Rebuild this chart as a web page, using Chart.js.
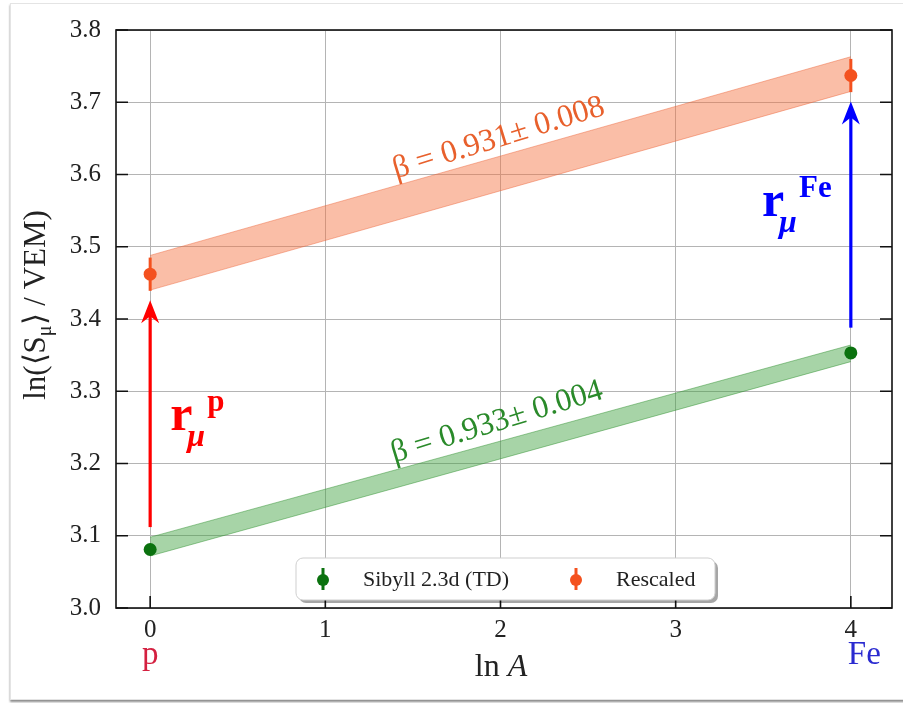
<!DOCTYPE html>
<html>
<head>
<meta charset="utf-8">
<script src="https://cdn.jsdelivr.net/npm/chart.js@4.4.1/dist/chart.umd.min.js"></script>
<style>
  html, body { margin: 0; padding: 0; background: #fff; width: 903px; height: 703px; overflow: hidden; }
  #card { position: absolute; left: 10px; top: 3px; width: 900px; height: 695px; background: #fff;
          border: 1px solid #e4e4e4; box-shadow: 0 2px 2px rgba(0,0,0,0.45); }
  canvas { position: absolute; left: 0; top: 0; }
</style>
</head>
<body>
<div id="card"></div>
<canvas id="c" width="903" height="703"></canvas>
<script>
// ln A of the two primaries (proton, iron)
const lnA = [0, 4];
const xTickValues = [0, 1, 2, 3, 4];
const yTickValues = [3.0, 3.1, 3.2, 3.3, 3.4, 3.5, 3.6, 3.7, 3.8];
const primaryNames = ['p', 'Fe'];

// ln<S_mu> per primary, with errors
const sibyllY = [3.081, 3.353];
const sibyllErr = [0.005, 0.005];
const rescaledY = [3.462, 3.737];
const rescaledErr = [0.023, 0.023];

// linear fit bands (lower / upper edge at lnA = 0 and 4)
const sibyllBandLow = [3.072, 3.341];
const sibyllBandHigh = [3.098, 3.364];
const rescaledBandLow = [3.440, 3.715];
const rescaledBandHigh = [3.488, 3.763];

// fitted slopes
const sibyllBeta = ['0.933', '0.004'];
const rescaledBeta = ['0.931', '0.008'];

// rescaling arrows: [lnA, from, to]
const arrowP = [0, 3.112, 3.426];
const arrowFe = [4, 3.388, 3.701];

const SERIF = "'Liberation Serif', 'Times New Roman', serif";
const GREEN = '#0b720f';
const ORANGE = '#f4511e';
const GREEN_FILL = 'rgba(60,160,60,0.45)';
const GREEN_EDGE = 'rgba(40,140,40,0.45)';
const ORANGE_FILL = 'rgba(244,110,60,0.45)';
const ORANGE_EDGE = 'rgba(235,95,50,0.45)';

const pts = ys => lnA.map((x, i) => ({ x: x, y: ys[i] }));

// error bars under the markers
const errorBars = {
  id: 'errorBars',
  beforeDatasetDraw(chart, args) {
    const ds = chart.data.datasets[args.index];
    if (!ds.err) return;
    const { ctx, scales: { x, y } } = chart;
    ctx.save();
    ctx.strokeStyle = ds.backgroundColor;
    ctx.lineWidth = 3;
    ds.data.forEach((p, i) => {
      const px = x.getPixelForValue(p.x);
      ctx.beginPath();
      ctx.moveTo(px, y.getPixelForValue(p.y - ds.err[i]));
      ctx.lineTo(px, y.getPixelForValue(p.y + ds.err[i]));
      ctx.stroke();
    });
    ctx.restore();
  }
};

function drawArrow(ctx, x, y, a, color) {
  const px = x.getPixelForValue(a[0]);
  const y0 = y.getPixelForValue(a[1]);
  const y1 = y.getPixelForValue(a[2]);
  ctx.save();
  ctx.strokeStyle = color;
  ctx.fillStyle = color;
  ctx.lineWidth = 3.2;
  ctx.beginPath();
  ctx.moveTo(px, y0);
  ctx.lineTo(px, y1 + 14);
  ctx.stroke();
  ctx.beginPath();
  ctx.moveTo(px, y1);
  ctx.lineTo(px - 9, y1 + 23);
  ctx.lineTo(px, y1 + 16);
  ctx.lineTo(px + 9, y1 + 23);
  ctx.closePath();
  ctx.fill();
  ctx.restore();
}

// r_mu^X label, anchored at the baseline-left of "r"
function drawRmu(ctx, px, py, sup, color) {
  ctx.save();
  ctx.fillStyle = color;
  ctx.textAlign = 'left';
  ctx.textBaseline = 'alphabetic';
  ctx.font = 'bold 50px ' + SERIF;
  ctx.fillText('r', px, py);
  ctx.font = 'italic bold 32px ' + SERIF;
  ctx.fillText('\u03bc', px + 17, py + 16);
  ctx.font = 'bold 31px ' + SERIF;
  ctx.fillText(sup, px + 37, py - 19);
  ctx.restore();
}

function drawRotated(ctx, text, px, py, angle, font, color) {
  ctx.save();
  ctx.translate(px, py);
  ctx.rotate(angle);
  ctx.font = font;
  ctx.fillStyle = color;
  ctx.textAlign = 'center';
  ctx.textBaseline = 'middle';
  ctx.fillText(text, 0, 0);
  ctx.restore();
}

const decorations = {
  id: 'decorations',
  afterDraw(chart) {
    const { ctx, chartArea: ca, scales: { x, y } } = chart;

    // frame
    ctx.save();
    ctx.strokeStyle = '#111';
    ctx.lineWidth = 1.6;
    ctx.strokeRect(ca.left, ca.top, ca.right - ca.left, ca.bottom - ca.top);
    // inward ticks
    ctx.beginPath();
    yTickValues.forEach(v => {
      const py = y.getPixelForValue(v);
      ctx.moveTo(ca.left, py); ctx.lineTo(ca.left + 12, py);
      ctx.moveTo(ca.right, py); ctx.lineTo(ca.right - 12, py);
    });
    xTickValues.forEach(v => {
      const px = x.getPixelForValue(v);
      ctx.moveTo(px, ca.bottom); ctx.lineTo(px, ca.bottom - 12);
    });
    ctx.stroke();
    ctx.restore();

    // rescaling arrows and their labels
    drawArrow(ctx, x, y, arrowP, '#ff0000');
    drawArrow(ctx, x, y, arrowFe, '#0000ff');
    drawRmu(ctx, x.getPixelForValue(0.114), y.getPixelForValue(3.246), 'p', '#ff0000');
    drawRmu(ctx, x.getPixelForValue(3.493), y.getPixelForValue(3.543), 'Fe', '#0000ff');

    // slope labels along the bands
    const ang = -17 * Math.PI / 180;
    drawRotated(ctx, '\u03b2 = ' + rescaledBeta[0] + '\u00b1 ' + rescaledBeta[1],
      x.getPixelForValue(1.99), y.getPixelForValue(3.65), ang, '32px ' + SERIF, '#e8602c');
    drawRotated(ctx, '\u03b2 = ' + sibyllBeta[0] + '\u00b1 ' + sibyllBeta[1],
      x.getPixelForValue(1.98), y.getPixelForValue(3.257), ang, '32px ' + SERIF, '#2a8a2a');

    // primary names under the ticks
    ctx.save();
    ctx.textBaseline = 'alphabetic';
    ctx.font = '33px ' + SERIF;
    ctx.fillStyle = '#d42040';
    ctx.textAlign = 'center';
    ctx.fillText(primaryNames[0], x.getPixelForValue(lnA[0]), 664);
    ctx.fillStyle = '#2a2ad0';
    ctx.textAlign = 'left';
    ctx.fillText(primaryNames[1], x.getPixelForValue(lnA[1]) - 3, 664);
    ctx.restore();

    // x title: ln A
    ctx.save();
    ctx.fillStyle = '#222';
    ctx.textBaseline = 'alphabetic';
    ctx.font = '32px ' + SERIF;
    const w1 = ctx.measureText('ln ').width;
    ctx.font = 'italic 32px ' + SERIF;
    const w2 = ctx.measureText('A').width;
    const cx = (ca.left + ca.right) / 2 - 3;
    let sx = cx - (w1 + w2) / 2;
    ctx.font = '32px ' + SERIF;
    ctx.fillText('ln ', sx, 676);
    ctx.font = 'italic 32px ' + SERIF;
    ctx.fillText('A', sx + w1, 676);
    ctx.restore();

    // y title: ln(<S_mu> / VEM)
    ctx.save();
    ctx.translate(45, 305);
    ctx.rotate(-Math.PI / 2);
    ctx.fillStyle = '#222';
    ctx.textBaseline = 'alphabetic';
    const big = '31px ' + SERIF, small = '20px ' + SERIF;
    const parts = [['ln(\u27e8S', big, 0], ['\u03bc', small, 6], ['\u27e9 / VEM)', big, 0]];
    let total = 0;
    parts.forEach(p => { ctx.font = p[1]; total += ctx.measureText(p[0]).width; });
    let tx = -total / 2;
    parts.forEach(p => { ctx.font = p[1]; ctx.fillText(p[0], tx, p[2]); tx += ctx.measureText(p[0]).width; });
    ctx.restore();

    // legend box
    const items = chart.data.datasets.filter(d => d.err);
    const bw = 419, bh = 42;
    const bx = (ca.left + ca.right) / 2 + 1.5 - bw / 2;
    const by = ca.bottom - 8 - bh;
    ctx.save();
    ctx.fillStyle = 'rgba(0,0,0,0.35)';
    ctx.beginPath(); ctx.roundRect(bx + 3, by + 3, bw, bh, 7); ctx.fill();
    ctx.fillStyle = '#fff';
    ctx.strokeStyle = '#cfcfcf';
    ctx.lineWidth = 1;
    ctx.beginPath(); ctx.roundRect(bx, by, bw, bh, 7); ctx.fill(); ctx.stroke();
    const my = by + bh / 2;
    const entryX = [bx + 27, bx + 280];
    items.forEach((d, i) => {
      const mx = entryX[i];
      ctx.strokeStyle = d.backgroundColor;
      ctx.lineWidth = 3;
      ctx.beginPath(); ctx.moveTo(mx, my - 11); ctx.lineTo(mx, my + 11); ctx.stroke();
      ctx.fillStyle = d.backgroundColor;
      ctx.beginPath(); ctx.arc(mx, my + 1, 6, 0, Math.PI * 2); ctx.fill();
      ctx.fillStyle = '#222';
      ctx.font = '22px ' + SERIF;
      ctx.textAlign = 'left';
      ctx.textBaseline = 'middle';
      ctx.fillText(d.label, mx + 40, my + 1);
    });
    ctx.restore();
  }
};

new Chart(document.getElementById('c'), {
  type: 'scatter',
  data: {
    datasets: [
      { label: 'Sibyll 2.3d (TD)', data: pts(sibyllY), err: sibyllErr,
        backgroundColor: GREEN, borderWidth: 0, pointRadius: 6.5 },
      { label: 'Rescaled', data: pts(rescaledY), err: rescaledErr,
        backgroundColor: ORANGE, borderWidth: 0, pointRadius: 6.5 },
      { type: 'line', label: 'sibyll band low', data: pts(sibyllBandLow),
        borderColor: GREEN_EDGE, borderWidth: 1, pointRadius: 0, fill: false },
      { type: 'line', label: 'sibyll band high', data: pts(sibyllBandHigh),
        borderColor: GREEN_EDGE, borderWidth: 1, pointRadius: 0, fill: 2, backgroundColor: GREEN_FILL },
      { type: 'line', label: 'rescaled band low', data: pts(rescaledBandLow),
        borderColor: ORANGE_EDGE, borderWidth: 1, pointRadius: 0, fill: false },
      { type: 'line', label: 'rescaled band high', data: pts(rescaledBandHigh),
        borderColor: ORANGE_EDGE, borderWidth: 1, pointRadius: 0, fill: 4, backgroundColor: ORANGE_FILL }
    ]
  },
  options: {
    responsive: false,
    devicePixelRatio: 1,
    animation: false,
    events: [],
    layout: { padding: { top: 29, right: 11, left: 0, bottom: 0 } },
    plugins: { legend: { display: false }, tooltip: { enabled: false } },
    scales: {
      x: {
        type: 'linear', min: -0.195, max: 4.235,
        afterBuildTicks: s => { s.ticks = xTickValues.map(v => ({ value: v })); },
        afterFit: s => { s.height = 95; },
        grid: { color: '#b4b4b4', lineWidth: 1, drawTicks: false },
        border: { display: false },
        ticks: { color: '#222', font: { family: SERIF, size: 25 }, padding: 7,
                 callback: v => String(v) }
      },
      y: {
        type: 'linear', min: 3.0, max: 3.8,
        afterBuildTicks: s => { s.ticks = yTickValues.map(v => ({ value: v })); },
        afterFit: s => { s.width = 116; },
        grid: { color: '#b4b4b4', lineWidth: 1, drawTicks: false },
        border: { display: false },
        ticks: { color: '#222', font: { family: SERIF, size: 25 }, padding: 15,
                 callback: v => v.toFixed(1) }
      }
    }
  },
  plugins: [errorBars, decorations]
});
</script>
</body>
</html>
